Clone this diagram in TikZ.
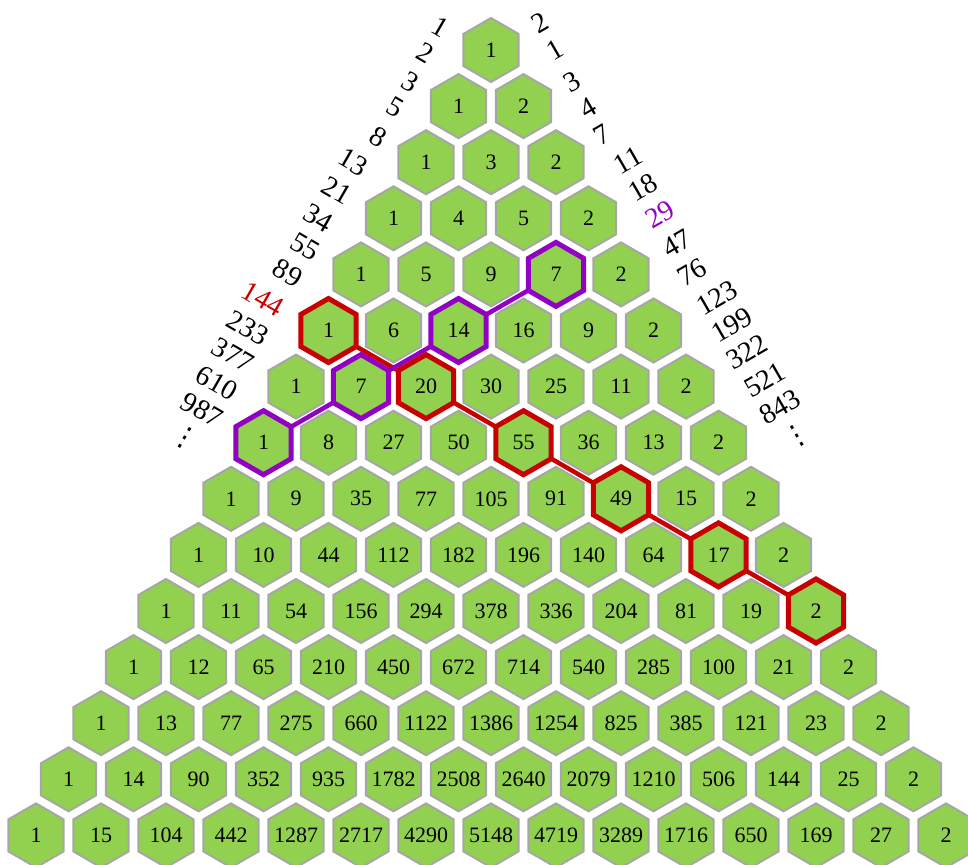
\documentclass[tikz,border=0pt]{standalone}
\usepackage{fontspec}
\setmainfont{Liberation Serif}
\newfontfamily\symfont{DejaVu Sans}
\usetikzlibrary{shapes.geometric}
\definecolor{hexgreen}{RGB}{146,208,80}
\definecolor{hexgray}{RGB}{166,166,166}
\definecolor{hlred}{RGB}{200,0,0}
\definecolor{hlpurple}{RGB}{146,0,196}
\pgfdeclarelayer{bg}
\pgfsetlayers{bg,main}
\tikzset{
  hexshape/.style={shape=regular polygon, regular polygon sides=6, shape border rotate=30,
    minimum size=64pt, inner sep=0pt, outer sep=0pt},
  hexcell/.style={hexshape, fill=hexgreen, draw=hexgray, line width=2pt,
    font=\fontsize{22}{22}\selectfont},
  hexmark/.style={hexshape, draw=#1, line width=5pt},
  pathline/.style={draw=#1, line width=4.5pt},
  leftlabel/.style={rotate=-30, font=\fontsize{28.5}{28.5}\selectfont, inner sep=0pt},
  rightlabel/.style={rotate=30, font=\fontsize{28.5}{28.5}\selectfont, inner sep=0pt},
  dotstack/.style={font=\symfont\fontsize{28}{28}\selectfont},
}
\begin{document}
\begin{tikzpicture}[x=1pt,y=-1pt]
\useasboundingbox (0,0) rectangle (968,864);
% hexagon cells
\foreach \row [count=\r from 0] in {
  {1},
  {1,2},
  {1,3,2},
  {1,4,5,2},
  {1,5,9,7,2},
  {1,6,14,16,9,2},
  {1,7,20,30,25,11,2},
  {1,8,27,50,55,36,13,2},
  {1,9,35,77,105,91,49,15,2},
  {1,10,44,112,182,196,140,64,17,2},
  {1,11,54,156,294,378,336,204,81,19,2},
  {1,12,65,210,450,672,714,540,285,100,21,2},
  {1,13,77,275,660,1122,1386,1254,825,385,121,23,2},
  {1,14,90,352,935,1782,2508,2640,2079,1210,506,144,25,2},
  {1,15,104,442,1287,2717,4290,5148,4719,3289,1716,650,169,27,2}}{
  \foreach \v [count=\k from 0] in \row {
    \node[hexcell] (h\r-\k) at ({491+(\k-\r/2)*65},{50+\r*56.1}) {\makebox[0pt]{\v}};
  }
}
% connecting paths (behind the cells)
\begin{pgfonlayer}{bg}
\draw[pathline=hlred] (h5-0.center) -- (h6-2.center) -- (h7-4.center) -- (h8-6.center)
  -- (h9-8.center) -- (h10-10.center);
\draw[pathline=hlpurple] (h7-0.center) -- (h6-1.center) -- (h5-2.center) -- (h4-3.center);
\end{pgfonlayer}
% highlighted outlines
\foreach \c [count=\i] in {5-0,6-2,7-4,8-6,9-8,10-10}
  \node[hexmark=hlred] (red\i) at (h\c) {};
\foreach \c [count=\i] in {7-0,6-1,5-2,4-3}
  \node[hexmark=hlpurple] (pur\i) at (h\c) {};
% left diagonal sums
\foreach \t/\x/\y/\c [count=\i] in {
  1/440/27/black, 2/425/53/black, 3/410/82/black, 5/395/107/black, 8/378/137/black,
  13/353/162/black, 21/337/190/black, 34/318/218/black, 55/305/247/black,
  89/288/273/black, 144/263/299/hlred, 233/248/328/black, 377/233/355/black,
  610/217/383/black, 987/202/410/black}
  \node[leftlabel, text=\c] (L\i) at (\x,\y) {\t};
\node[leftlabel, dotstack] (Ldots) at (185,438) {⋮};
% right diagonal sums
\foreach \t/\x/\y/\c [count=\i] in {
  2/540/23/black, 1/555/50/black, 3/572/82/black, 4/588/108/black, 7/602/135/black,
  11/628/160/black, 18/643/187/black, 29/660/214/hlpurple, 47/677/243/black,
  76/692/272/black, 123/717/298/black, 199/732/325/black, 322/747/352/black,
  521/765/380/black, 843/780/407/black}
  \node[rightlabel, text=\c] (R\i) at (\x,\y) {\t};
\node[rightlabel, dotstack] (Rdots) at (797,436) {⋮};
\end{tikzpicture}
\end{document}
